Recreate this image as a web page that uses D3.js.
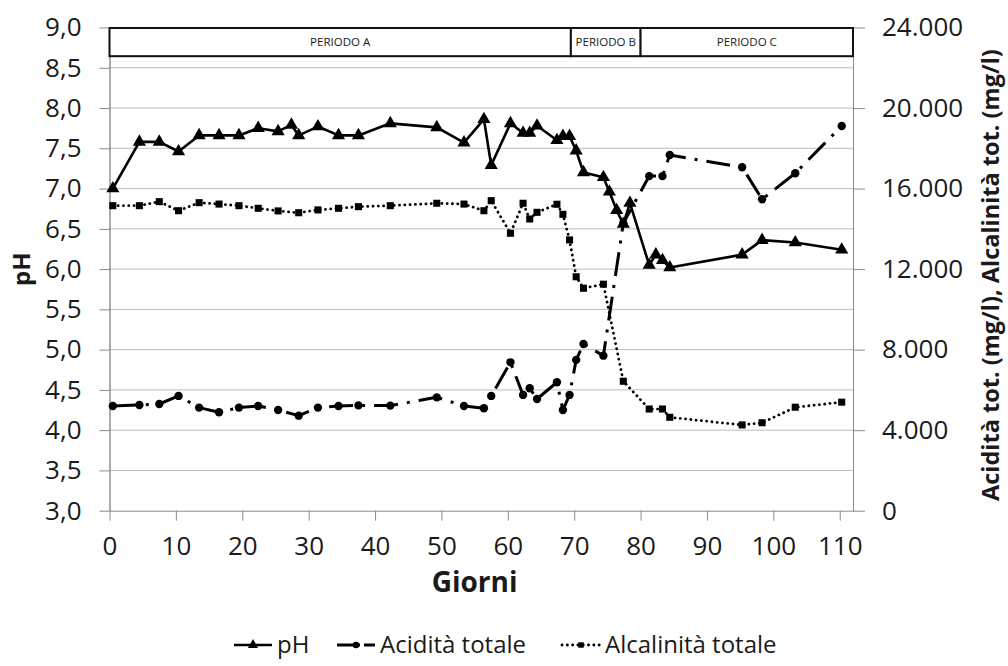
<!DOCTYPE html>
<html>
<head>
    <meta charset="utf-8">
    <title>pH, acidità e alcalinità</title>
    <script src="https://d3js.org/d3.v7.min.js"></script>
    <style>
        body { margin: 0; background: #fff; }
        text { font-family: "Open Sans", sans-serif; fill: #1a1a1a; }
    </style>
</head>
<body>
    <svg width="1008" height="666"></svg>
    <script>
        // Data
        const daysPH = [0.5, 4.5, 7.5, 10.4, 13.5, 16.5, 19.5, 22.4, 25.4, 27.4,
                        28.5, 31.4, 34.5, 37.5, 42.3, 49.3, 53.4, 56.4, 57.5, 60.4,
                        62.3, 63.3, 64.4, 67.4, 68.3, 69.3, 70.3, 71.4, 74.4, 75.3,
                        76.4, 77.4, 78.4, 81.3, 82.3, 83.3, 84.4, 95.3, 98.3, 103.3, 110.3];
        const pH = [7.00, 7.58, 7.58, 7.46, 7.66, 7.66, 7.66, 7.75, 7.71, 7.79,
                    7.66, 7.77, 7.66, 7.66, 7.81, 7.76, 7.57, 7.86, 7.29, 7.81,
                    7.69, 7.69, 7.78, 7.60, 7.65, 7.65, 7.47, 7.20, 7.14, 6.96,
                    6.73, 6.56, 6.82, 6.05, 6.18, 6.11, 6.02, 6.18, 6.36, 6.33, 6.24];

        const daysTot = [0.5, 4.5, 7.5, 10.4, 13.5, 16.5, 19.5, 22.4, 25.4, 28.5,
                         31.4, 34.5, 37.5, 42.3, 49.3, 53.4, 56.4, 57.5, 60.4, 62.3,
                         63.3, 64.4, 67.4, 68.3, 69.3, 70.3, 71.4, 74.4, 77.4, 81.3,
                         83.3, 84.4, 95.3, 98.3, 103.3, 110.3];
        const acidita = [5200, 5250, 5300, 5700, 5120, 4890, 5120, 5200, 5000, 4720,
                         5120, 5200, 5230, 5220, 5630, 5200, 5090, 5700, 7370, 5750,
                         6080, 5550, 6380, 5000, 5750, 7490, 8280, 7700, 14280, 16620,
                         16620, 17670, 17060, 15470, 16760, 19110];
        const alcalinita = [15150, 15150, 15350, 14900, 15300, 15230, 15150, 15020, 14890, 14800,
                            14940, 15020, 15100, 15150, 15270, 15230, 14900, 15400, 13780, 15270,
                            14490, 14820, 15220, 14720, 13450, 11620, 11050, 11250, 6430, 5050,
                            5050, 4640, 4260, 4370, 5140, 5390];

        const periods = [
            {name: "PERIODO A", from: 0, to: 69.5},
            {name: "PERIODO B", from: 69.5, to: 80},
            {name: "PERIODO C", from: 80, to: 112}
        ];

        const xTicks = d3.range(0, 111, 10);
        const pHTicks = d3.range(3, 9.01, 0.5);
        const rightTicks = d3.range(0, 24001, 4000);

        // Plot area
        const margin = {top: 27.5, right: 155, bottom: 155.3, left: 109.5},
              width = 1008 - margin.left - margin.right,
              height = 666 - margin.top - margin.bottom;

        const svg = d3.select("svg")
          .append("g")
            .attr("transform", `translate(${margin.left},${margin.top})`);

        const x = d3.scaleLinear().domain([0, 112]).range([0, width]);
        const y = d3.scaleLinear().domain([3, 9]).range([height, 0]);
        const y2 = d3.scaleLinear().domain([0, 24000]).range([height, 0]);

        const it = d3.formatLocale({decimal: ",", thousands: ".", grouping: [3], currency: ["", ""]});
        const fmtPH = it.format(".1f");
        const fmtR = it.format(",d");

        // Gridlines
        svg.append("g")
            .selectAll("line")
            .data(pHTicks.filter(d => d > 3))
            .join("line")
            .attr("x1", 0).attr("x2", width)
            .attr("y1", d => y(d)).attr("y2", d => y(d))
            .attr("stroke", "#bdbdbd")
            .attr("stroke-width", 1);

        // Axes
        const xAxis = svg.append("g")
            .attr("transform", `translate(0,${height})`)
            .call(d3.axisBottom(x).tickValues(xTicks).tickSize(10).tickPadding(16).tickSizeOuter(0));
        xAxis.select(".domain").attr("stroke", "#8c8c8c");
        xAxis.selectAll(".tick line").attr("stroke", "#8c8c8c");
        xAxis.selectAll("text").style("font-size", "26px").attr("fill", "#1a1a1a");

        const yAxis = svg.append("g")
            .call(d3.axisLeft(y).tickValues(pHTicks).tickFormat(fmtPH).tickSize(10).tickPadding(18).tickSizeOuter(0));
        yAxis.select(".domain").attr("stroke", "#595959");
        yAxis.selectAll(".tick line").attr("stroke", "#8c8c8c");
        yAxis.selectAll("text").style("font-size", "26px").attr("fill", "#1a1a1a");

        const y2Axis = svg.append("g")
            .attr("transform", `translate(${width},0)`)
            .call(d3.axisRight(y2).tickValues(rightTicks).tickFormat(fmtR).tickSize(12).tickPadding(17).tickSizeOuter(0));
        y2Axis.select(".domain").attr("stroke", "#8c8c8c");
        y2Axis.selectAll(".tick line").attr("stroke", "#8c8c8c");
        y2Axis.selectAll("text").style("font-size", "26px").attr("fill", "#1a1a1a");

        // Axis titles
        svg.append("text")
            .attr("transform", `translate(${-88},${height / 2}) rotate(-90)`)
            .attr("text-anchor", "middle")
            .attr("dy", "0.35em")
            .style("font-size", "24px").style("font-weight", "bold")
            .text("pH");

        svg.append("text")
            .attr("transform", `translate(${width + 138},${height / 2 + 6}) rotate(-90)`)
            .attr("text-anchor", "middle")
            .attr("dy", "0.35em")
            .style("font-size", "23.5px").style("font-weight", "bold")
            .text("Acidità tot. (mg/l), Alcalinità tot. (mg/l)");

        svg.append("text")
            .attr("x", x(55)).attr("y", height + 71)
            .attr("text-anchor", "middle")
            .attr("dy", "0.35em")
            .style("font-size", "28px").style("font-weight", "bold")
            .text("Giorni");

        // Period boxes
        const pg = svg.append("g");
        pg.selectAll("rect")
            .data(periods)
            .join("rect")
            .attr("x", d => x(d.from))
            .attr("width", d => x(d.to) - x(d.from))
            .attr("y", y(9) + 0.5)
            .attr("height", y(8.65) - y(9))
            .attr("fill", "#fff")
            .attr("stroke", "#111")
            .attr("stroke-width", 2);
        pg.selectAll("text")
            .data(periods)
            .join("text")
            .attr("x", d => (x(d.from) + x(d.to)) / 2)
            .attr("y", (y(9) + y(8.65)) / 2)
            .attr("text-anchor", "middle")
            .attr("dy", "0.35em")
            .style("font-size", "11.5px")
            .attr("fill", "#404040")
            .text(d => d.name);

        // Series
        const series = [
            {name: "pH", days: daysPH, values: pH, scale: y, dash: null, cap: "butt", width: 2.6, symbol: d3.symbolTriangle, size: 75},
            {name: "Acidità totale", days: daysTot, values: acidita, scale: y2, dash: "24 9 3 9", cap: "butt", width: 3, symbol: d3.symbolCircle, size: 55},
            {name: "Alcalinità totale", days: daysTot, values: alcalinita, scale: y2, dash: "0.1 5.2", cap: "round", width: 2.8, symbol: d3.symbolSquare, size: 50}
        ];

        series.forEach(s => {
            const pts = s.days.map((d, i) => [x(d), s.scale(s.values[i])]);
            svg.append("path")
                .attr("d", d3.line()(pts))
                .attr("fill", "none")
                .attr("stroke", "#000")
                .attr("stroke-width", s.width)
                .attr("stroke-linecap", s.cap)
                .attr("stroke-linejoin", "round")
                .attr("stroke-dasharray", s.dash);
            svg.append("g")
                .selectAll("path")
                .data(pts)
                .join("path")
                .attr("transform", d => `translate(${d[0]},${d[1]})`)
                .attr("d", d3.symbol(s.symbol, s.size))
                .attr("fill", "#000");
        });

        // Legend
        const legendX = [234, 337, 562];
        const lg = d3.select("svg").append("g").attr("transform", "translate(0,645)");
        series.forEach((s, i) => {
            const g = lg.append("g").attr("transform", `translate(${legendX[i]},0)`);
            g.append("line")
                .attr("x1", 0).attr("x2", 38)
                .attr("stroke", "#000")
                .attr("stroke-width", s.width)
                .attr("stroke-linecap", s.cap)
                .attr("stroke-dasharray", i === 1 ? "16 4 3 4" : s.dash);
            g.append("path")
                .attr("transform", "translate(19,0)")
                .attr("d", d3.symbol(s.symbol, s.size * 0.6))
                .attr("fill", "#000");
            g.append("text")
                .attr("x", 43)
                .attr("dy", "0.35em")
                .style("font-size", "24px")
                .text(s.name);
        });
    </script>
</body>
</html>
